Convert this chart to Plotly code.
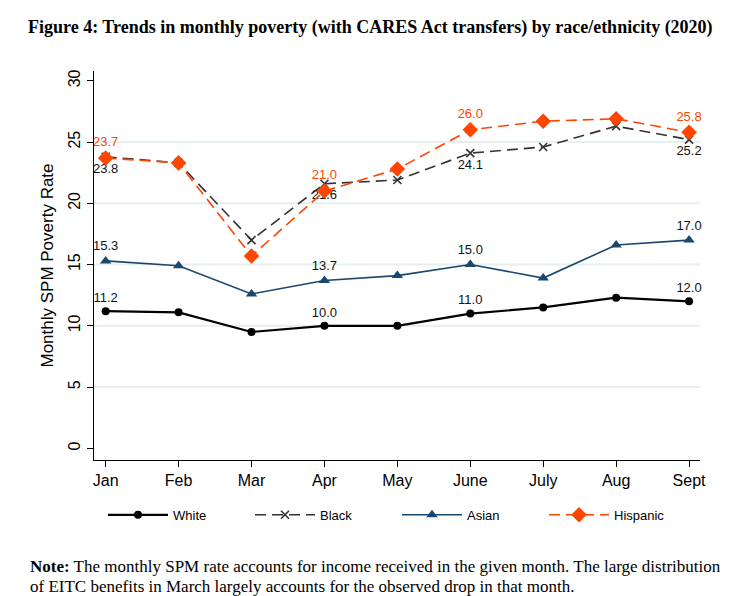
import plotly.graph_objects as go

months = ["Jan", "Feb", "Mar", "Apr", "May", "June", "July", "Aug", "Sept"]
white = [11.2, 11.1, 9.5, 10.0, 10.0, 11.0, 11.5, 12.3, 12.0]
black = [23.8, 23.3, 17.0, 21.6, 21.9, 24.1, 24.6, 26.3, 25.2]
asian = [15.3, 14.9, 12.6, 13.7, 14.1, 15.0, 13.9, 16.6, 17.0]
hispanic = [23.7, 23.3, 15.7, 21.0, 22.8, 26.0, 26.7, 26.9, 25.8]
labelled = ["Jan", "Apr", "June", "Sept"]
y_ticks = [0, 5, 10, 15, 20, 25, 30]
grid_vals = [5, 10, 15, 20, 25]

x = list(range(len(months)))


def labels(vals):
    return [f"{v:.1f}" if m in labelled else "" for m, v in zip(months, vals)]


fig = go.Figure()

series = [
    ("White", white, dict(color="#000000", width=2.2, dash="solid"),
     dict(symbol="circle", size=8, color="#000000"), "top center", "#111111"),
    ("Black", black, dict(color="#333333", width=1.6, dash="11px,6px"),
     dict(symbol="x-thin", size=8, color="#333333", line=dict(color="#333333", width=1.6)),
     "bottom center", "#111111"),
    ("Asian", asian, dict(color="#1a476f", width=1.6, dash="solid"),
     dict(symbol="triangle-up", size=10, color="#1a476f"), "top center", "#111111"),
    ("Hispanic", hispanic, dict(color="#ff4500", width=1.6, dash="11px,6px"),
     dict(symbol="diamond", size=12, color="#ff4500"), "top center", "#ff4500"),
]

for name, vals, line, marker, tpos, tcol in series:
    fig.add_trace(go.Scatter(
        x=x, y=vals, name=name, mode="lines+markers+text",
        line=line, marker=marker,
        text=labels(vals), textposition=tpos,
        textfont=dict(family="Liberation Sans, Arial", size=13, color=tcol),
        cliponaxis=False,
    ))

for g in grid_vals:
    fig.add_shape(type="line", xref="paper", x0=0, x1=1, yref="y", y0=g, y1=g,
                  line=dict(color="#e6eeee", width=2), layer="below")

note_font = dict(family="Liberation Serif, Times New Roman", size=17, color="#000000")

fig.update_layout(
    width=741, height=596,
    margin=dict(l=86, r=49, t=63, b=144, autoexpand=False),
    paper_bgcolor="white", plot_bgcolor="white",
    font=dict(family="Liberation Sans, Arial", color="#000000"),
    title=dict(
        text="<b>Figure 4: Trends in monthly poverty (with CARES Act transfers) by race/ethnicity (2020)</b>",
        font=dict(family="Liberation Serif, Times New Roman", size=18, color="#000000"),
        x=20 / 741, xanchor="left", xref="container",
        y=1 - 19 / 596, yanchor="middle", yref="container",
    ),
    xaxis=dict(
        tickmode="array", tickvals=x, ticktext=months,
        range=[-0.16, 8.15], automargin=False,
        showgrid=False, zeroline=False,
        showline=True, linecolor="#000000", linewidth=1.4,
        ticks="outside", ticklen=6, tickcolor="#000000", tickwidth=1,
        tickfont=dict(size=16, color="#000000"),
    ),
    yaxis=dict(
        range=[-0.95, 30.8], automargin=False,
        tickvals=y_ticks, tickangle=-90,
        showgrid=False, zeroline=False,
        showline=True, linecolor="#000000", linewidth=1.4,
        ticks="outside", ticklen=6, tickcolor="#000000", tickwidth=1,
        tickfont=dict(size=16, color="#000000"),
        title=dict(text="Monthly SPM Poverty Rate", font=dict(size=17, color="#000000"), standoff=8),
    ),
    legend=dict(
        orientation="h", x=0.5, xanchor="center", y=-0.141, yanchor="middle",
        font=dict(size=13, color="#000000"),
        entrywidth=72, entrywidthmode="pixels",
        itemwidth=60,
    ),
    annotations=[
        dict(
            text="<b>Note:</b> The monthly SPM rate accounts for income received in the given month. The large distribution",
            xref="paper", yref="paper", x=-66 / 606, xanchor="left",
            y=-(558 - 452) / 389, yanchor="middle",
            align="left", showarrow=False, font=note_font,
        ),
        dict(
            text="of EITC benefits in March largely accounts for the observed drop in that month.",
            xref="paper", yref="paper", x=-66 / 606, xanchor="left",
            y=-(578 - 452) / 389, yanchor="middle",
            align="left", showarrow=False, font=note_font,
        ),
    ],
)

fig.write_html("out.html")
